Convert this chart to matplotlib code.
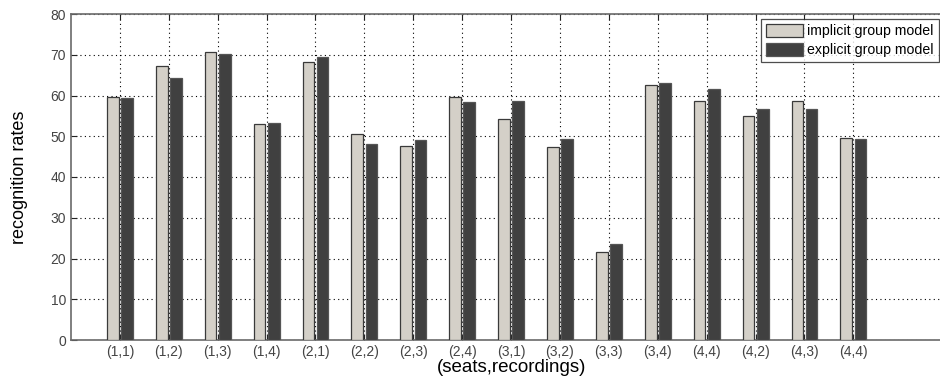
import matplotlib.pyplot as plt
import numpy as np

labels = ['(1,1)', '(1,2)', '(1,3)', '(1,4)', '(2,1)', '(2,2)', '(2,3)', '(2,4)',
          '(3,1)', '(3,2)', '(3,3)', '(3,4)', '(4,4)', '(4,2)', '(4,3)', '(4,4)']
implicit = [59.6, 67.3, 70.6, 53.1, 68.1, 50.6, 47.6, 59.6,
            54.2, 47.4, 21.7, 62.6, 58.6, 54.9, 58.6, 49.5]
explicit = [59.5, 64.4, 70.3, 53.3, 69.5, 48.1, 49.1, 58.3,
            58.7, 49.4, 23.5, 63.1, 61.6, 56.6, 56.6, 49.3]

plt.rcParams['font.family'] = ['Liberation Sans', 'DejaVu Sans']

fig = plt.figure(figsize=(9.4, 3.83), dpi=100)
# axes runs past the right edge of the figure, like the cropped original
ax = fig.add_axes([71 / 940, 43 / 383, 18 * 48.9 / 940, 326 / 383])

x = np.arange(1, len(labels) + 1)
w = 0.24
off = 0.145
ax.bar(x - off, implicit, w, color='#d4d0c8', edgecolor='#3a3a3a', linewidth=0.9,
       label='implicit group model', zorder=3)
ax.bar(x + off, explicit, w, color='#404040', edgecolor='#555555', linewidth=0.9,
       label='explicit group model', zorder=3)

ax.set_xlim(0, 18)
ax.set_ylim(0, 80)
ax.set_yticks(np.arange(0, 81, 10))
ax.set_xticks(x)
ax.set_xticklabels(labels)
ax.tick_params(direction='in', top=True, right=False, labelsize=10, labelcolor='#444444',
               color='#222222', length=4)
ax.grid(True, linestyle=(0, (1, 3)), color='black', linewidth=0.8, zorder=1)
for s in ax.spines.values():
    s.set_color('#6a6a6a')
    s.set_linewidth(1.2)

ax.set_ylabel('recognition rates', fontsize=13, labelpad=16)
ax.set_xlabel('(seats,recordings)', fontsize=13.5, labelpad=0)

leg = ax.legend(loc='upper left', bbox_to_anchor=((761 - 71) / (18 * 48.9), 1 - 5 / 326),
                frameon=True, fancybox=False, fontsize=10.2, borderpad=0.35,
                handlelength=2.6, handleheight=1.0, handletextpad=0.3, labelspacing=0.35,
                borderaxespad=0)
leg.get_frame().set_edgecolor('#222222')
leg.get_frame().set_linewidth(0.9)

fig.savefig('out.png', dpi=100)
